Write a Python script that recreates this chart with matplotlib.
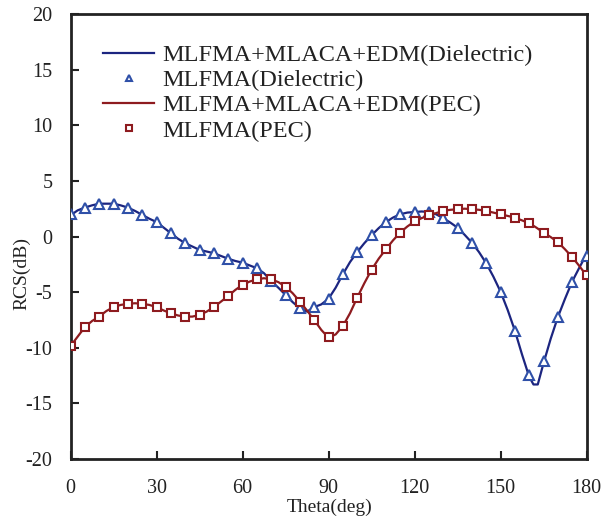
import matplotlib
matplotlib.use("Agg")
import matplotlib.pyplot as plt

# ---- data ----
theta_markers = list(range(0, 181, 5))

diel_markers = [2.0, 2.6, 2.95, 2.95, 2.6, 1.95, 1.3, 0.3, -0.6, -1.2, -1.5, -2.0,
                -2.35, -2.85, -4.0, -5.25, -6.45, -6.35, -5.6, -3.4, -1.4, 0.1, 1.3,
                2.0, 2.2, 2.2, 1.65, 0.8, -0.55, -2.4, -4.95, -8.45, -12.45, -11.2,
                -7.25, -4.05, -1.75]

pec_markers = [-9.85, -8.15, -7.2, -6.35, -6.05, -6.05, -6.35, -6.9, -7.2, -7.05,
               -6.35, -5.35, -4.35, -3.85, -3.85, -4.5, -5.85, -7.5, -9.05, -8.05,
               -5.5, -3.0, -1.15, 0.35, 1.35, 1.9, 2.3, 2.45, 2.45, 2.3, 2.0, 1.7,
               1.2, 0.35, -0.5, -1.85, -3.5]

diel_line_theta = [0, 2.5, 5, 7.5, 10, 12.5, 15, 17.5, 20, 22.5, 25, 27.5, 30, 32.5,
                   35, 37.5, 40, 42.5, 45, 47.5, 50, 52.5, 55, 57.5, 60, 62.5, 65,
                   67.5, 70, 72.5, 75, 77.5, 80, 82.5, 85, 87.5, 90, 92.5, 95, 97.5,
                   100, 102.5, 105, 107.5, 110, 112.5, 115, 117.5, 120, 122.5, 125,
                   127.5, 130, 132.5, 135, 137.5, 140, 142.5, 145, 147.5, 150, 152.5,
                   155, 157.5, 160, 161.5, 163, 165, 167.5, 170, 172.5, 175, 177.5, 180]
diel_line = [1.9, 2.35, 2.6, 2.8, 2.95, 2.95, 2.95, 2.8, 2.6, 2.3, 1.95, 1.6, 1.3, 0.8,
             0.3, -0.2, -0.6, -0.9, -1.2, -1.35, -1.5, -1.75, -2.0, -2.2, -2.35, -2.6,
             -2.85, -3.3, -4.0, -4.6, -5.25, -5.9, -6.45, -6.75, -6.35, -6.1, -5.6,
             -4.6, -3.4, -2.3, -1.4, -0.6, 0.1, 0.75, 1.3, 1.7, 2.0, 2.15, 2.2, 2.25,
             2.2, 2.0, 1.65, 1.25, 0.8, 0.15, -0.55, -1.4, -2.4, -3.6, -4.95, -6.6,
             -8.45, -10.6, -12.6, -13.3, -13.3, -11.4, -9.2, -7.25, -5.6, -4.05, -2.8,
             -1.6]

pec_line_theta = [0, 2.5, 5, 7.5, 10, 12.5, 15, 17.5, 20, 22.5, 25, 27.5, 30, 32.5,
                  35, 37.5, 40, 42.5, 45, 47.5, 50, 52.5, 55, 57.5, 60, 62.5, 65,
                  67.5, 70, 72.5, 75, 77.5, 80, 82.5, 85, 87.5, 90, 92.5, 95, 97.5,
                  100, 102.5, 105, 107.5, 110, 112.5, 115, 117.5, 120, 122.5, 125,
                  127.5, 130, 132.5, 135, 137.5, 140, 142.5, 145, 147.5, 150, 152.5,
                  155, 157.5, 160, 162.5, 165, 167.5, 170, 172.5, 175, 177.5, 180]
pec_line = [-9.85, -9.0, -8.15, -7.6, -7.2, -6.7, -6.35, -6.15, -6.05, -6.0, -6.05,
            -6.15, -6.35, -6.65, -6.9, -7.1, -7.2, -7.2, -7.05, -6.75, -6.35, -5.85,
            -5.35, -4.8, -4.35, -4.05, -3.85, -3.75, -3.85, -4.1, -4.5, -5.1, -5.85,
            -6.65, -7.5, -8.4, -9.1, -8.8, -8.05, -6.9, -5.5, -4.2, -3.0, -2.0, -1.15,
            -0.35, 0.35, 0.9, 1.35, 1.65, 1.9, 2.1, 2.3, 2.4, 2.45, 2.5, 2.45, 2.4,
            2.3, 2.15, 2.0, 1.85, 1.7, 1.45, 1.2, 0.8, 0.35, -0.05, -0.5, -1.15,
            -1.85, -2.65, -3.5]

labels = ["MLFMA+MLACA+EDM(Dielectric)", "MLFMA(Dielectric)",
          "MLFMA+MLACA+EDM(PEC)", "MLFMA(PEC)"]
x_ticks = [0, 30, 60, 90, 120, 150, 180]
y_ticks = [-20, -15, -10, -5, 0, 5, 10, 15, 20]

# ---- style ----
plt.rcParams['font.family'] = ['Liberation Serif', 'DejaVu Serif']
blue_line = "#1c2580"
blue_mark = "#2f50a8"
red_line = "#8e1b1f"
red_mark = "#8e1b1f"

fig = plt.figure(figsize=(6.05, 5.2), dpi=100)
ax = fig.add_axes([70.5 / 605, 1 - 459 / 520, (586.5 - 70.5) / 605, (459 - 14) / 520])

ax.plot(diel_line_theta, diel_line, color=blue_line, lw=1.6, label=labels[0], zorder=2)
ax.plot(theta_markers, diel_markers, ls='none', marker='^', ms=7, mfc='white',
        mec=blue_mark, mew=1.5, label=labels[1], zorder=3)
ax.plot(pec_line_theta, pec_line, color=red_line, lw=1.6, label=labels[2], zorder=4)
ax.plot(theta_markers, pec_markers, ls='none', marker='s', ms=5.5, mfc='white',
        mec=red_mark, mew=1.5, label=labels[3], zorder=5)

ax.set_xlim(0, 180)
ax.set_ylim(-20, 20)
ax.set_xticks(x_ticks)
ax.set_yticks(y_ticks)
ax.set_yticklabels([str(v) for v in y_ticks])
ax.tick_params(axis='both', direction='in', length=6, width=1.5, colors='#222222',
               labelsize=14.5, labelcolor='#222222')
ax.tick_params(axis='x', pad=14.5)
ax.tick_params(axis='y', pad=13)
for s in ax.spines.values():
    s.set_linewidth(2)
    s.set_color('#222222')

ax.set_xlabel("Theta(deg)", fontsize=14, color='#222222')
ax.set_ylabel("RCS(dB)", fontsize=14, color='#222222')
ax.xaxis.set_label_coords((330 - 70.5) / 516, -(499 - 459) / 445)
ax.yaxis.set_label_coords(-(70.5 - 30) / 516, (459 - 274) / 445)

leg = ax.legend(loc='upper left', bbox_to_anchor=(103 / 605, 1 - 44 / 520),
                bbox_transform=fig.transFigure, frameon=False, fontsize=17.5,
                handlelength=2.1, handletextpad=0.33, labelspacing=0.13,
                borderpad=0, borderaxespad=0, markerscale=0.7)
for t in leg.get_texts():
    t.set_color('#222222')

fig.savefig("out.png", dpi=100)
